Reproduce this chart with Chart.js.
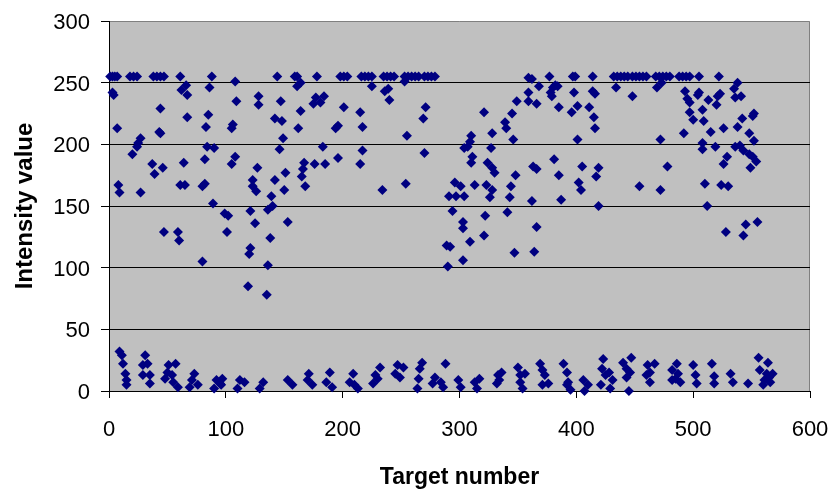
<!DOCTYPE html>
<html>
<head>
<meta charset="utf-8">
<script src="https://cdn.jsdelivr.net/npm/chart.js@4"></script>
<style>
    body { margin: 0; background: #fff; }
    #wrap { width: 832px; height: 489px; }
</style>
</head>
<body>
<div id="wrap"><canvas id="chart-1" width="832" height="489"></canvas></div>
<script>
// Data

// targets with a high intensity (saturated ones sit at 255)
const highX = [
    1, 3, 5, 7, 18, 21, 24, 38, 41, 44, 47, 61, 88, 144, 159, 161, 178, 198, 201, 204,
    216, 219, 222, 225, 235, 238, 241, 244, 253, 256, 259, 262, 265, 270, 273, 276, 279,
    359, 362, 377, 397, 399, 414, 432, 435, 438, 441, 444, 448, 451, 454, 457, 460,
    468, 471, 474, 477, 480, 488, 491, 494, 497, 505, 522,
    3, 4, 62, 66, 67, 86, 44, 67, 85, 83, 7, 44, 43, 27, 25, 24, 20, 84, 90, 82, 64,
    37, 39, 46, 8, 9, 27, 61, 65, 80, 82, 89, 47, 59, 60, 80,
    108, 161, 164, 109, 128, 128, 147, 164, 177, 184, 181, 175, 201, 142, 148, 162, 106,
    105, 196, 194, 149, 146, 183, 108, 105, 127, 142, 151, 167, 166, 165, 168, 176, 185,
    196, 123, 123, 126, 150, 139, 140, 136, 99, 102, 101, 121, 125, 153, 138, 121, 120,
    136, 119, 135,
    225, 236, 239, 240, 253, 215, 217, 271, 269, 255, 217, 215, 270, 304, 234, 254, 296,
    291, 297, 304, 294, 303, 303, 289, 292, 303, 290,
    368, 382, 380, 384, 379, 378, 359, 359, 366, 349, 385, 398, 401, 396, 321, 345, 339,
    340, 328, 346, 310, 309, 307, 327, 401, 311, 310, 324, 328, 330, 348, 363, 366, 381,
    385, 405, 402, 404, 313, 323, 326, 328, 344, 343, 362, 387, 301, 322, 309, 321, 341,
    366, 347, 364,
    434, 448, 469, 473, 414, 416, 411, 415, 416, 493, 495, 497, 505, 504, 508, 497, 500,
    509, 492, 472, 508, 508, 419, 417, 454, 472, 478, 510, 419,
    538, 535, 536, 541, 513, 521, 523, 520, 515, 526, 538, 542, 551, 552, 548, 552, 519,
    529, 526, 536, 540, 543, 548, 551, 554, 549, 524, 530, 512, 528, 545, 555, 543
];
const highY = [
    255, 255, 255, 255, 255, 255, 255, 255, 255, 255, 255, 255, 255, 255, 255, 255, 255, 255, 255, 255,
    255, 255, 255, 255, 255, 255, 255, 255, 255, 255, 255, 255, 255, 255, 255, 255, 255,
    254, 253, 255, 255, 255, 255, 255, 255, 255, 255, 255, 255, 255, 255, 255, 255,
    255, 255, 255, 255, 255, 255, 255, 255, 255, 255, 255,
    242, 240, 244, 248, 240, 246, 229, 222, 224, 214, 213, 209, 210, 205, 201, 198, 192, 198, 197, 188, 185,
    184, 176, 181, 167, 161, 161, 167, 167, 166, 168, 152, 129, 129, 122, 105,
    251, 247, 250, 235, 239, 232, 235, 227, 238, 239, 234, 233, 230, 221, 219, 213, 216,
    213, 215, 213, 205, 196, 198, 190, 184, 181, 171, 177, 185, 180, 174, 166, 184, 184,
    189, 171, 166, 162, 163, 158, 150, 147, 144, 142, 129, 146, 136, 137, 124, 116, 111,
    102, 85, 78,
    247, 243, 245, 236, 251, 226, 214, 230, 221, 207, 195, 184, 193, 197, 163, 168, 169,
    158, 158, 158, 146, 137, 132, 118, 117, 106, 101,
    247, 248, 246, 247, 239, 242, 242, 235, 233, 235, 230, 242, 231, 226, 226, 225, 218,
    213, 209, 204, 207, 202, 198, 197, 204, 190, 185, 185, 181, 177, 175, 182, 180, 188,
    175, 182, 169, 163, 167, 167, 157, 163, 166, 157, 154, 155, 166, 142, 121, 126, 145,
    133, 112, 113,
    246, 239, 246, 250, 243, 241, 230, 222, 213, 243, 237, 234, 242, 240, 228, 226, 220,
    219, 209, 204, 201, 196, 181, 174, 166, 163, 182, 168, 150,
    250, 245, 238, 239, 236, 239, 241, 232, 210, 213, 214, 221, 223, 225, 209, 203, 198,
    190, 184, 198, 199, 195, 192, 190, 186, 181, 167, 166, 150, 129, 135, 137, 126
];

// targets with a low intensity
const lowX = [
    9, 11, 12, 14, 15, 15, 31, 33, 29, 29, 35, 35, 51, 57, 50, 54, 48, 55, 59, 73, 71, 76, 69, 92, 95, 90,
    97, 96, 112, 116, 110, 132, 129, 153, 157, 171, 170, 174, 189, 186, 191,
    209, 206, 210, 213, 232, 228, 230, 226, 247, 252, 245, 249, 268, 266, 265, 264, 279, 284, 286, 277, 288, 299, 301,
    313, 317, 315, 333, 336, 332, 334, 350, 352, 356, 352, 354, 369, 371, 373, 371, 376, 389, 392, 393, 392, 395, 406, 407,
    423, 422, 428, 425, 421, 431, 429, 410, 440, 447, 443, 446, 443, 445, 461, 467, 463, 460, 463, 482, 486, 487, 485, 482, 489, 500, 502, 503,
    516, 518, 518, 532, 534, 547, 556, 564, 557, 563, 568, 561, 566, 560, 565
];
const lowY = [
    32, 29, 22, 14, 9, 5, 29, 22, 21, 13, 13, 6, 21, 22, 15, 13, 10, 7, 3, 14, 9, 5, 3, 9, 6, 2,
    10, 5, 9, 7, 2, 7, 2, 9, 5, 14, 9, 5, 15, 7, 3,
    14, 7, 5, 2, 19, 13, 10, 6, 21, 19, 14, 11, 23, 18, 10, 2, 11, 7, 3, 6, 22, 9, 3,
    7, 10, 2, 13, 15, 6, 9, 19, 13, 14, 7, 2, 22, 17, 13, 5, 6, 22, 15, 7, 5, 1, 9, 0,
    26, 18, 15, 13, 5, 9, 2, 5, 23, 27, 18, 15, 11, 0, 21, 22, 15, 13, 7, 17, 22, 14, 10, 9, 7, 21, 13, 6,
    22, 12, 6, 14, 7, 6, 27, 23, 17, 14, 14, 9, 7, 5, 11
];

const xTicks = [0, 100, 200, 300, 400, 500, 600];
const yTicks = [0, 50, 100, 150, 200, 250, 300];


// Chart

const points = highX.map((x, i) => ({ x: x, y: highY[i] }))
    .concat(lowX.map((x, i) => ({ x: x, y: lowY[i] })));

const fontFamily = "'Liberation Sans', Arial, sans-serif";

// grey plot area with a thin grey frame on top and right
const plotArea = {
    id: 'plotArea',
    beforeDraw(chart) {
        const { ctx, chartArea: a } = chart;
        ctx.save();
        ctx.fillStyle = '#fff';
        ctx.fillRect(0, 0, chart.width, chart.height);
        ctx.fillStyle = '#c0c0c0';
        ctx.fillRect(a.left, a.top, a.right - a.left, a.bottom - a.top);
        ctx.strokeStyle = '#808080';
        ctx.lineWidth = 1;
        ctx.beginPath();
        ctx.moveTo(a.left, a.top + 0.5);
        ctx.lineTo(a.right - 0.5, a.top + 0.5);
        ctx.lineTo(a.right - 0.5, a.bottom);
        ctx.stroke();
        ctx.restore();
    }
};

const data1 = {
    datasets: [{
        label: 'Intensity',
        data: points,
        pointStyle: 'rectRot',
        pointRadius: 5,
        borderWidth: 0,
        backgroundColor: '#000080',
        borderColor: '#000080',
        clip: 6,
    }],
};

const config1 = {
    type: 'scatter',
    data: data1,
    plugins: [plotArea],
    options: {
        responsive: false,
        animation: false,
        layout: { padding: { top: 21, right: 22, left: 0, bottom: 0 } },
        plugins: {
            legend: { display: false },
            tooltip: { enabled: false },
        },
        scales: {
            x: {
                type: 'linear',
                min: 0,
                max: 600,
                afterBuildTicks: (scale) => { scale.ticks = xTicks.map(v => ({ value: v })); },
                afterFit: (scale) => {
                    scale.height = 98;
                    scale.paddingLeft = 0;
                    scale.paddingRight = 0;
                },
                ticks: {
                    color: '#000',
                    font: { family: fontFamily, size: 22 },
                    padding: 19,
                    maxRotation: 0,
                },
                grid: {
                    drawOnChartArea: false,
                    tickLength: 7,
                    tickColor: '#000',
                },
                border: { color: '#000', width: 1 },
                title: {
                    display: true,
                    text: 'Target number',
                    color: '#000',
                    font: { family: fontFamily, size: 23, weight: 'bold', lineHeight: 1 },
                    padding: { top: 0, bottom: 0 },
                },
            },
            y: {
                min: 0,
                max: 300,
                afterBuildTicks: (scale) => { scale.ticks = yTicks.map(v => ({ value: v })); },
                afterFit: (scale) => {
                    scale.width = 109;
                    scale.paddingTop = 0;
                    scale.paddingBottom = 0;
                },
                ticks: {
                    color: '#000',
                    font: { family: fontFamily, size: 22 },
                    padding: 11,
                    labelOffset: 2,
                },
                grid: {
                    color: (ctx) => (ctx.tick && ctx.tick.value === 300) ? 'rgba(0,0,0,0)' : '#000',
                    tickColor: '#000',
                    tickLength: 8,
                },
                border: { color: '#000', width: 1 },
                title: {
                    display: true,
                    text: 'Intensity value',
                    color: '#000',
                    font: { family: fontFamily, size: 24, weight: 'bold', lineHeight: 1 },
                    padding: { top: 13, bottom: 0 },
                },
            }
        }
    }
};

const context1 = document.getElementById('chart-1').getContext('2d');
const chart1 = new Chart(context1, config1);
</script>
</body>
</html>
